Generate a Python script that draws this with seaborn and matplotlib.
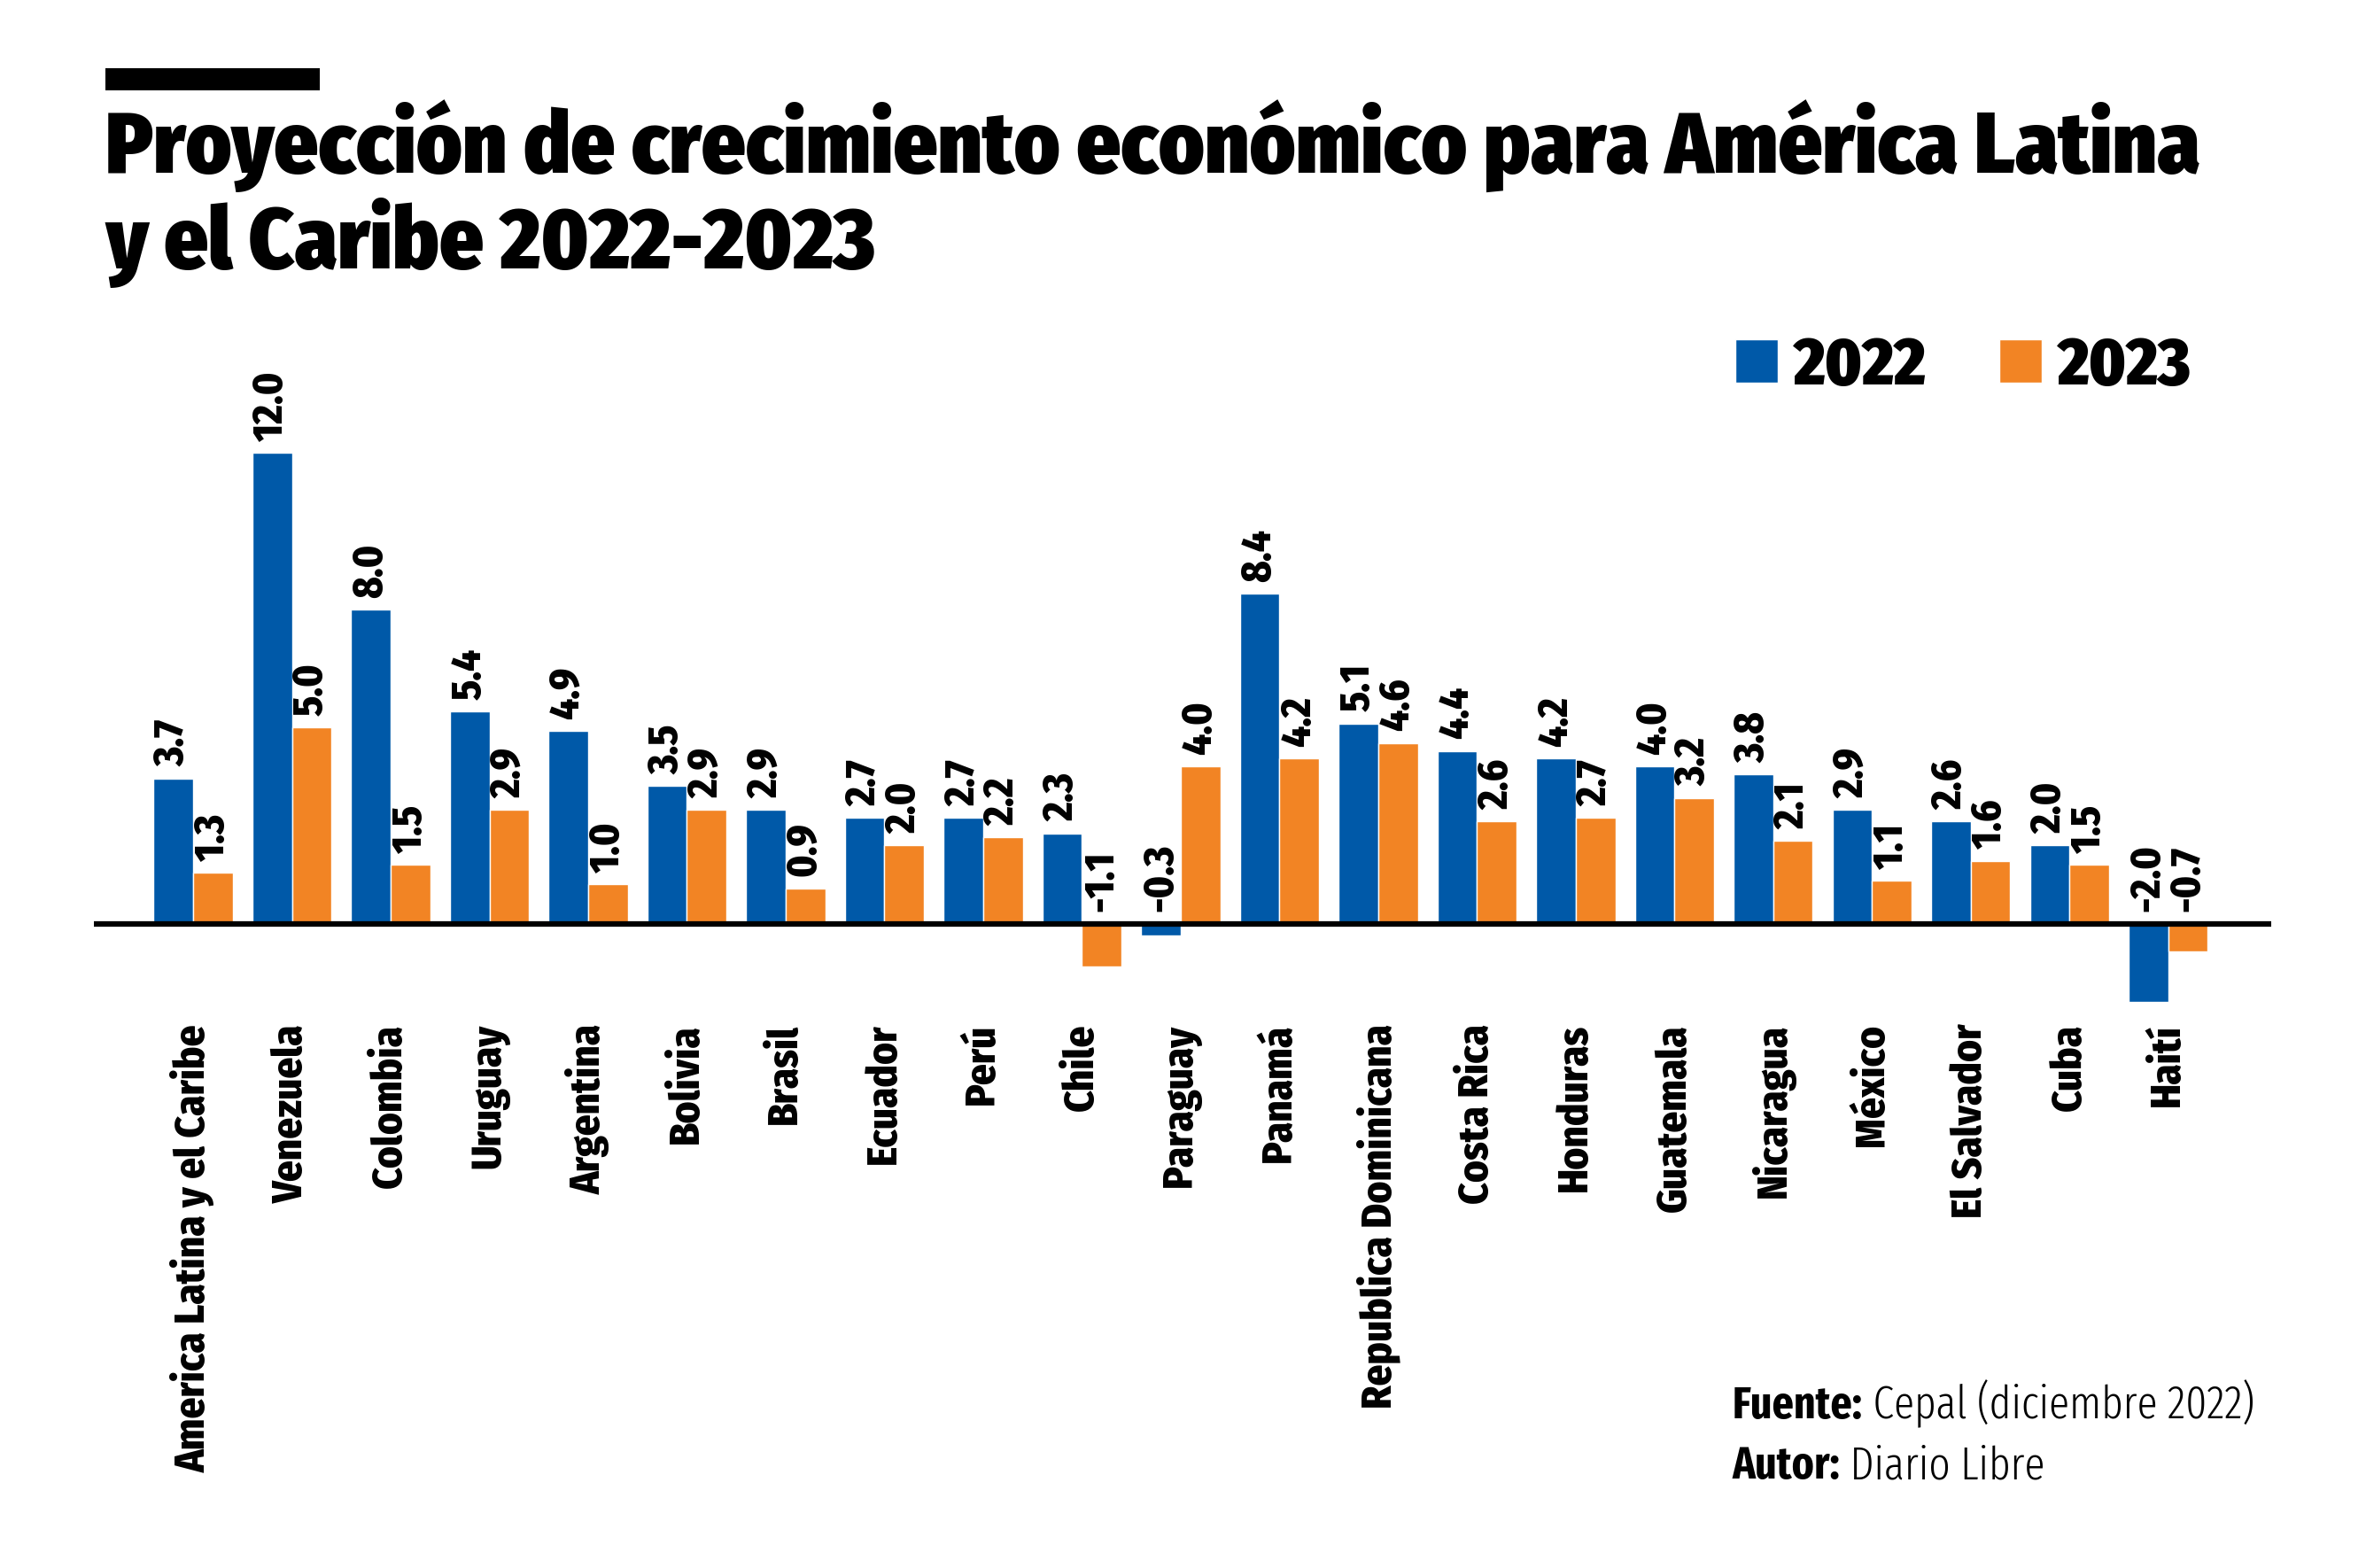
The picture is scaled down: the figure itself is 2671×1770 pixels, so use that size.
import matplotlib
matplotlib.use('Agg')
import matplotlib.pyplot as plt
from matplotlib.patches import Rectangle
import pandas as pd
import seaborn as sns

# Data (CEPAL projections, % growth)
countries = ['America Latina y el Caribe', 'Venezuela', 'Colombia', 'Uruguay',
             'Argentina', 'Bolivia', 'Brasil', 'Ecuador', 'Perú', 'Chile',
             'Paraguay', 'Panamá', 'Republica Dominicana', 'Costa Rica',
             'Honduras', 'Guatemala', 'Nicaragua', 'México', 'El Salvador',
             'Cuba', 'Haití']
growth_2022 = [3.7, 12.0, 8.0, 5.4, 4.9, 3.5, 2.9, 2.7, 2.7, 2.3, -0.3,
               8.4, 5.1, 4.4, 4.2, 4.0, 3.8, 2.9, 2.6, 2.0, -2.0]
growth_2023 = [1.3, 5.0, 1.5, 2.9, 1.0, 2.9, 0.9, 2.0, 2.2, -1.1, 4.0,
               4.2, 4.6, 2.6, 2.7, 3.2, 2.1, 1.1, 1.6, 1.5, -0.7]
years = ['2022', '2023']
colors = {'2022': '#0059A8', '2023': '#F28424'}

title_lines = ['Proyección de crecimiento económico para América Latina',
               'y el Caribe 2022-2023']
footer = [('Fuente:', ' Cepal (diciembre 2022)'),
          ('Autor:', ' Diario Libre')]

W, H = 2671, 1770
S = W / 1568          # layout below is measured on a 1568 px wide preview
COND = ['Fira Sans Condensed', 'DejaVu Sans']
XCOND = ['Fira Sans Extra Condensed', 'DejaVu Sans']
LABEL_WEIGHT = 800

sns.set_style('white')
plt.rcParams['font.family'] = COND
plt.rcParams['text.color'] = 'black'

df = pd.DataFrame({
    'country': countries * 2,
    'year': [years[0]] * len(countries) + [years[1]] * len(countries),
    'growth': growth_2022 + growth_2023,
})

fig = plt.figure(figsize=(W / 100, H / 100), dpi=100)
renderer = fig.canvas.get_renderer()


def fx(px):
    return px * S / W


def fy(px):
    return 1 - px * S / H


def fit_size(text, family, weight, target):
    """Font size (pt) that makes text about `target` preview px wide."""
    t = fig.text(0, 0, text, fontsize=100, family=family, fontweight=weight)
    w = t.get_window_extent(renderer).width
    t.remove()
    return 100 * target * S / w


# axes: zero line at y=612, 12.0 reaches y=300, x from 62 to 1505
unit = (612 - 300) / 12
ymin, ymax = -2.5, 14.7
ax_top = 612 - ymax * unit
ax_bot = 612 - ymin * unit
ax = fig.add_axes([fx(62), fy(ax_bot), fx(1505) - fx(62), fy(ax_top) - fy(ax_bot)])
sns.barplot(data=df, x='country', y='growth', hue='year', order=countries,
            hue_order=years, palette=colors, width=0.8, saturation=1,
            errorbar=None, ax=ax)

step = (1437 - 128) / (len(countries) - 1)
ax.set_xlim(-(128 - 62) / step, len(countries) - 1 + (1505 - 1437) / step)
ax.set_ylim(ymin, ymax)
ax.axhline(0, color='black', lw=4.5, zorder=5)

# value labels, negatives sit above the zero line
val_size = fit_size('12.0', COND, LABEL_WEIGHT, 46)
for cont, vals in zip(ax.containers, [growth_2022, growth_2023]):
    for bar, v in zip(cont, vals):
        x = bar.get_x() + bar.get_width() / 2
        ax.text(x, max(v, 0) + 0.3, f'{v:.1f}', rotation=90, ha='center',
                va='bottom', fontsize=val_size, fontweight=LABEL_WEIGHT,
                family=COND, color='black')

cat_size = fit_size('Republica Dominicana', COND, LABEL_WEIGHT, 255)
ax.set_xticks(range(len(countries)))
ax.set_xticklabels(countries, rotation=90, fontsize=cat_size,
                   fontweight=LABEL_WEIGHT, family=COND, color='black')
ax.tick_params(axis='x', length=0, pad=2)
ax.set_yticks([])
ax.set_xlabel('')
ax.set_ylabel('')
sns.despine(ax=ax, left=True, bottom=True)

# legend in the top right corner
leg_size = fit_size('2022', COND, 900, 88)
handles = ax.get_legend().legend_handles
ax.get_legend().remove()
fig.legend(handles, years, loc='center left',
           bbox_to_anchor=(fx(1150), fy(243)), ncol=2, frameon=False,
           prop={'family': COND, 'weight': 900, 'size': leg_size},
           handlelength=0.64, handleheight=0.64, handletextpad=0.23,
           columnspacing=1.1, borderpad=0, borderaxespad=0)

# title with the black bar above it
fig.add_artist(Rectangle((fx(70), fy(60)), fx(212) - fx(70), fy(45) - fy(60),
                         transform=fig.transFigure, color='black', lw=0))
title_size = fit_size(title_lines[0], COND, 900, 1387)
for line, base in zip(title_lines, [115, 178]):
    fig.text(fx(70), fy(base), line, fontsize=title_size,
             fontweight=900, family=COND, va='baseline')

# footer: bold key + light text
foot_size = fit_size('Fuente: Cepal (diciembre 2022)', XCOND, 'normal', 349)
for (key, rest), base in zip(footer, [940, 980]):
    t = fig.text(fx(1148), fy(base), key, fontsize=foot_size,
                 fontweight='bold', family=XCOND, va='baseline')
    kw = t.get_window_extent(renderer).width
    fig.text(fx(1148) + kw / W, fy(base), rest, fontsize=foot_size,
             fontweight=300, family=XCOND, va='baseline')

fig.savefig('out.png', dpi=100, facecolor='white')
